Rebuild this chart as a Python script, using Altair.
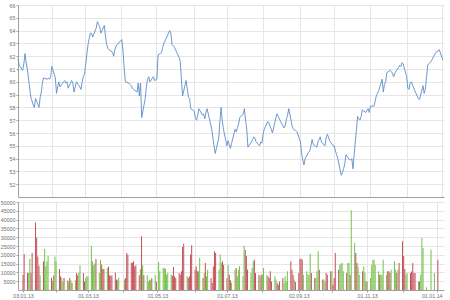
import altair as alt
import pandas as pd

# ---- closing prices per month ----
close_jan = [61.8, 61.3, 60.9, 61.4, 62.2, 61.5, 61.0, 58.8, 58.5, 58.2, 58.0, 58.7, 58.0, 58.8, 59.2, 60.0, 60.3, 60.2, 60.3, 60.2, 60.4]
close_feb = [61.2, 60.3, 59.1, 59.6, 60.0, 59.6, 60.0, 60.1, 59.9, 60.0, 59.5, 60.1, 59.9, 59.2, 59.6, 60.0, 59.6, 59.4, 60.0, 60.4]
close_mar = [60.6, 62.9, 63.4, 63.8, 63.8, 63.5, 64.2, 64.7, 64.5, 64.3, 63.8, 64.4, 63.5, 62.9, 62.6, 62.5, 62.3, 62.0, 62.5, 62.8]
close_apr = [63.3, 62.4, 61.0, 60.0, 59.9, 59.8, 59.7, 59.5, 59.4, 59.2, 59.9, 58.9, 59.9, 57.2, 58.7, 59.6, 60.2, 60.4, 60.0, 60.4, 60.1]
close_may = [60.2, 62.1, 62.3, 62.7, 63.0, 63.2, 63.4, 64.0, 63.8, 62.9, 62.8, 62.7, 62.1, 61.9, 61.6, 60.2, 58.9, 60.1, 59.5, 58.8, 58.7, 57.9]
close_jun = [57.7, 57.2, 57.0, 57.4, 57.9, 57.4, 57.5, 57.1, 57.6, 57.9, 56.7, 56.3, 55.6, 55.0, 54.4, 55.6, 56.9, 58.0, 57.0, 56.3]
close_jul = [55.0, 55.4, 55.1, 54.8, 55.2, 56.3, 56.1, 56.4, 56.7, 57.2, 57.5, 57.9, 57.0, 56.3, 54.9, 55.3, 55.5, 55.7, 55.6, 55.3, 55.0, 55.3, 55.2]
close_aug = [55.9, 56.3, 56.9, 56.8, 56.5, 56.3, 56.0, 57.2, 57.5, 57.3, 57.1, 56.9, 56.4, 56.6, 57.1, 57.4, 57.9, 56.5, 56.3, 56.2, 56.2, 56.1]
close_sep = [55.3, 54.4, 53.9, 53.5, 54.0, 54.5, 54.6, 55.0, 55.5, 55.1, 54.9, 55.3, 55.5, 55.7, 55.3, 55.0, 55.6, 55.9, 55.7, 55.4, 55.0]
close_oct = [55.0, 54.6, 54.3, 54.0, 52.7, 52.9, 53.2, 53.6, 54.3, 53.9, 53.9, 54.0, 53.2, 54.3, 57.3, 57.1, 57.0, 57.3, 57.8, 57.6, 57.8, 57.9, 57.6]
close_nov = [58.1, 58.1, 58.5, 58.9, 59.1, 59.3, 60.2, 59.2, 59.8, 60.0, 60.7, 60.9, 60.8, 60.6, 60.4, 60.7, 61.1, 61.3, 61.2, 61.5, 61.4]
close_dec = [60.4, 59.5, 59.4, 59.9, 60.0, 59.3, 59.1, 58.9, 58.7, 58.6, 59.7, 59.1, 59.4, 60.3, 61.3, 61.6, 62.3, 62.5]
close_jan14 = [61.7]

# ---- traded volume per month ----
vol_jan = [8700, 20400, 9700, 9800, 17600, 9700, 21000, 38400, 29900, 19100, 13800, 8400, 16300, 23300, 13300, 16300, 19500, 7000, 5300, 8400, 19100]
vol_feb = [16300, 12000, 7800, 6800, 4900, 6800, 5500, 4900, 6800, 5500, 4000, 5500, 9700, 8400, 9800, 14000, 9700, 4900, 6800, 7800]
vol_mar = [7800, 25200, 16300, 14000, 15000, 17600, 9700, 17000, 14400, 12000, 12000, 12500, 13400, 8400, 8000, 8400, 10000, 6000, 5500, 7000]
vol_apr = [5900, 6800, 21000, 20000, 15500, 15500, 16300, 13300, 14000, 8400, 12000, 30500, 14000, 8400, 8400, 4900, 6000, 5500, 6800, 8600, 4900]
vol_may = [15900, 10600, 12500, 12500, 11900, 8700, 9700, 8700, 8100, 13100, 7800, 6800, 9700, 8700, 10600, 24400, 26300, 7800, 6800, 7800, 20100, 25400]
vol_jun = [11500, 13400, 10600, 10600, 18200, 6800, 9700, 15300, 7800, 11500, 6800, 4000, 13400, 22000, 21000, 11500, 20100, 15300, 16300, 14400]
vol_jul = [6800, 14400, 8700, 5500, 4000, 11500, 12500, 7800, 11500, 13600, 7800, 25200, 22700, 19300, 11500, 9700, 12500, 16300, 17200, 9700, 8700, 7800, 8700]
vol_aug = [8700, 12500, 8700, 7800, 6800, 10600, 4900, 7800, 5900, 4000, 3000, 4900, 6800, 4000, 7800, 4900, 10600, 16300, 11500, 8700, 5900, 4500]
vol_sep = [9700, 17800, 17800, 17200, 8700, 10600, 8700, 8700, 20600, 9700, 6800, 6800, 10600, 22000, 11500, 5900, 5900, 4900, 9700, 8700, 10600]
vol_oct = [10600, 3000, 6800, 21000, 11500, 14400, 15000, 15300, 10600, 9700, 15300, 15300, 8700, 45300, 26700, 21000, 15300, 13400, 8700, 10600, 13400, 9700, 4900]
vol_nov = [4900, 6800, 14400, 17200, 17200, 14400, 10600, 8700, 8700, 8700, 17200, 8700, 10600, 10600, 9700, 11500, 16300, 11500, 9700, 11500, 15300]
vol_dec = [27700, 19300, 12000, 8700, 9700, 9700, 10600, 15300, 9700, 9700, 4900, 4900, 8700, 29500, 23900, 1500, 22900, 9700]
vol_jan14 = [17200]

# ---- trading calendar / axis ticks ----
first_day = "2013-01-03"
last_day = "2014-01-02"
holidays = ["2013-03-29", "2013-04-01", "2013-05-01", "2013-12-24",
            "2013-12-25", "2013-12-26", "2013-12-31", "2014-01-01"]
tick_dates = [(2013, 1, 3), (2013, 2, 1), (2013, 3, 1), (2013, 4, 1), (2013, 5, 1),
              (2013, 6, 3), (2013, 7, 1), (2013, 8, 1), (2013, 9, 2), (2013, 10, 1),
              (2013, 11, 1), (2013, 12, 2), (2014, 1, 1)]
price_ticks = [52, 53, 54, 55, 56, 57, 58, 59, 60, 61, 62, 63, 64, 65, 66]
volume_ticks = [5000, 10000, 15000, 20000, 25000, 30000, 35000, 40000, 45000, 50000]

days = [d.strftime("%Y-%m-%d") for d in pd.bdate_range(first_day, last_day)]
days = [d for d in days if d not in holidays]

close = (close_jan + close_feb + close_mar + close_apr + close_may + close_jun +
         close_jul + close_aug + close_sep + close_oct + close_nov + close_dec + close_jan14)
volume = (vol_jan + vol_feb + vol_mar + vol_apr + vol_may + vol_jun +
          vol_jul + vol_aug + vol_sep + vol_oct + vol_nov + vol_dec + vol_jan14)
n = min(len(days), len(close), len(volume))
direction = ["down"] + ["up" if close[i] >= close[i - 1] else "down" for i in range(1, n)]
df = pd.DataFrame({"date": days[:n], "close": close[:n], "volume": volume[:n], "dir": direction})

x_scale = alt.Scale(type="utc", nice=False,
                    domain=[alt.DateTime(year=2013, month=1, date=3, utc=True),
                            alt.DateTime(year=2014, month=1, date=3, utc=True)])
tick_vals = [alt.DateTime(year=y, month=m, date=d, utc=True) for (y, m, d) in tick_dates]

price = alt.Chart(df).mark_line(color="#5d8dc8", strokeWidth=0.9).encode(
    x=alt.X("date:T", scale=x_scale,
            axis=alt.Axis(values=tick_vals, labels=False, ticks=False, title=None)),
    y=alt.Y("close:Q", scale=alt.Scale(domain=[51, 66], nice=False, zero=False),
            axis=alt.Axis(values=price_ticks, title=None, format="d")),
).properties(width=426, height=192)

vol = alt.Chart(df).mark_bar(width=1).encode(
    x=alt.X("date:T", scale=x_scale,
            axis=alt.Axis(values=tick_vals, title=None,
                          labelExpr="utcmonth(datum.value) % 2 == 0 ? utcFormat(datum.value, '%d.%m.%y') : ''",
                          labelOffset={"condition": {"test": "datum.value > utc(2013, 11, 15)", "value": -5}, "value": 0})),
    y=alt.Y("volume:Q", scale=alt.Scale(domain=[0, 50000], nice=False),
            axis=alt.Axis(values=volume_ticks, title=None, format="d")),
    color=alt.Color("dir:N", scale=alt.Scale(domain=["up", "down"], range=["#72c24a", "#c4505a"]), legend=None),
).properties(width=426, height=88)

chart = alt.vconcat(price, vol, spacing=3).properties(
    padding={"left": 0, "top": 3, "right": 3, "bottom": 3},
    background="white",
).configure_axis(
    labelFont="Liberation Sans", labelFontSize=5.3, labelColor="#707070",
    gridColor="#e6e6e6", gridWidth=1, domainColor="#a0a0a0", tickColor="#a0a0a0",
    tickSize=2, labelPadding=1,
).configure_view(stroke=None)

chart.save("out.html", embed_options={"renderer": "svg", "actions": False})
